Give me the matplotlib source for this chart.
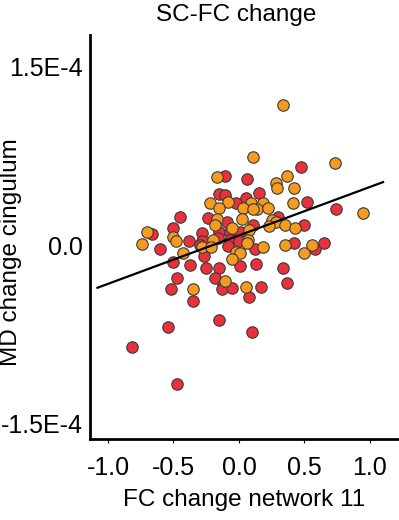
import numpy as np
import matplotlib
matplotlib.use("Agg")
import matplotlib.pyplot as plt

# ── Data (y in units of 1e-4) ──────────────────────────────────────────────
red_x = [0.47, -0.11, 0.06, -0.15, -0.11, 0.05, 0.15, -0.02, 0.52, 0.74,
         -0.45, -0.24, 0.30, -0.09, 0.11, 0.50, -0.50, -0.66, -0.28, -0.15,
         -0.07, 0.01, -0.38, -0.28, -0.16, -0.07, 0.00, -0.60, -0.30, -0.08,
         0.12, 0.42, 0.58, 0.65, -0.27, -0.50, -0.37, -0.25, -0.15, 0.01,
         0.13, 0.34, -0.47, -0.18, -0.12, 0.37, -0.52, -0.13, -0.05, 0.17,
         -0.35, 0.08, -0.15, -0.54, 0.10, -0.82, -0.47]
red_y = [0.66, 0.58, 0.56, 0.43, 0.42, 0.40, 0.44, 0.35, 0.36, 0.30,
         0.24, 0.23, 0.24, 0.19, 0.17, 0.17, 0.14, 0.09, 0.10, 0.11,
         0.11, 0.11, 0.03, 0.03, 0.06, 0.04, 0.03, -0.03, 0.00, -0.01,
         -0.03, 0.02, -0.03, 0.02, -0.09, -0.14, -0.17, -0.19, -0.19, -0.18,
         -0.16, -0.19, -0.28, -0.28, -0.34, -0.32, -0.37, -0.37, -0.36, -0.35,
         -0.47, -0.44, -0.63, -0.69, -0.73, -0.86, -1.17]

orange_x = [0.34, 0.11, 0.73, -0.17, 0.37, 0.28, 0.29, 0.42, -0.22, -0.08,
            0.09, 0.18, 0.41, -0.15, 0.03, 0.14, 0.22, 0.95, -0.17, 0.02,
            0.25, 0.28, -0.18, -0.05, 0.23, 0.35, 0.43, -0.70, 0.08, -0.50,
            -0.48, -0.20, 0.07, -0.74, -0.43, -0.28, -0.21, 0.06, 0.18, -0.02,
            0.01, 0.35, 0.50, 0.56, -0.05, -0.11, -0.35, 0.05, 0.11]
orange_y = [1.18, 0.74, 0.69, 0.57, 0.58, 0.52, 0.48, 0.48, 0.35, 0.36,
            0.35, 0.35, 0.35, 0.31, 0.31, 0.30, 0.31, 0.27, 0.22, 0.22,
            0.21, 0.19, 0.17, 0.14, 0.16, 0.17, 0.14, 0.11, 0.13, 0.07,
            0.03, 0.04, 0.04, 0.01, -0.07, -0.02, -0.02, 0.02, -0.02, -0.06,
            -0.07, 0.00, -0.07, 0.00, -0.12, -0.30, -0.37, -0.35, 0.30]

# fitted line end points
fit_x = [-1.08, 1.10]
fit_y = [-0.36, 0.53]

x_ticks = [-1.0, -0.5, 0.0, 0.5, 1.0]
x_tick_labels = ["-1.0", "-0.5", "0.0", "0.5", "1.0"]
y_ticks = [1.5, 0.0, -1.5]
y_tick_labels = ["1.5E-4", "0.0", "-1.5E-4"]

RED = "#E8313A"
ORANGE = "#F59B1E"
EDGE = "#3a3a3a"

scale = 1e-4

# ── Figure ──────────────────────────────────────────────────────────────────
fig = plt.figure(figsize=(3.99, 5.20), dpi=100)
ax = fig.add_axes([90 / 399, 1 - 439 / 520, 308 / 399, 404 / 520])

ax.scatter(np.array(red_x), np.array(red_y) * scale, s=68, c=RED,
           edgecolors=EDGE, linewidths=0.8, zorder=3)
ax.scatter(np.array(orange_x), np.array(orange_y) * scale, s=68, c=ORANGE,
           edgecolors=EDGE, linewidths=0.8, zorder=3)
ax.plot(fit_x, np.array(fit_y) * scale, color="black", linewidth=1.6, zorder=4)

ax.set_xlim(-1.137, 1.214)
ax.set_ylim(-1.634e-4, 1.769e-4)

for side in ("top", "right"):
    ax.spines[side].set_visible(False)
for side in ("left", "bottom"):
    ax.spines[side].set_linewidth(2.0)

tick_font = dict(family=["Liberation Sans", "DejaVu Sans"], size=18)
ax.set_xticks(x_ticks)
ax.set_xticklabels(x_tick_labels, fontdict=tick_font)
ax.set_yticks(np.array(y_ticks) * scale)
ax.set_yticklabels(y_tick_labels, fontdict=tick_font)
ax.tick_params(axis="x", length=3, width=0.8, pad=9)
ax.tick_params(axis="y", length=0, pad=5)

label_font = dict(family=["Liberation Sans", "DejaVu Sans"], size=17.5)
ax.set_xlabel("FC change network 11", fontdict=label_font, labelpad=7)
ax.set_ylabel("MD change cingulum", fontdict=label_font)
ax.yaxis.set_label_coords(-0.221, 0.463)

fig.text(236 / 399, 1 - 4 / 520, "SC-FC change", ha="center", va="top",
         fontdict=label_font)

fig.savefig("out.png", dpi=100)
